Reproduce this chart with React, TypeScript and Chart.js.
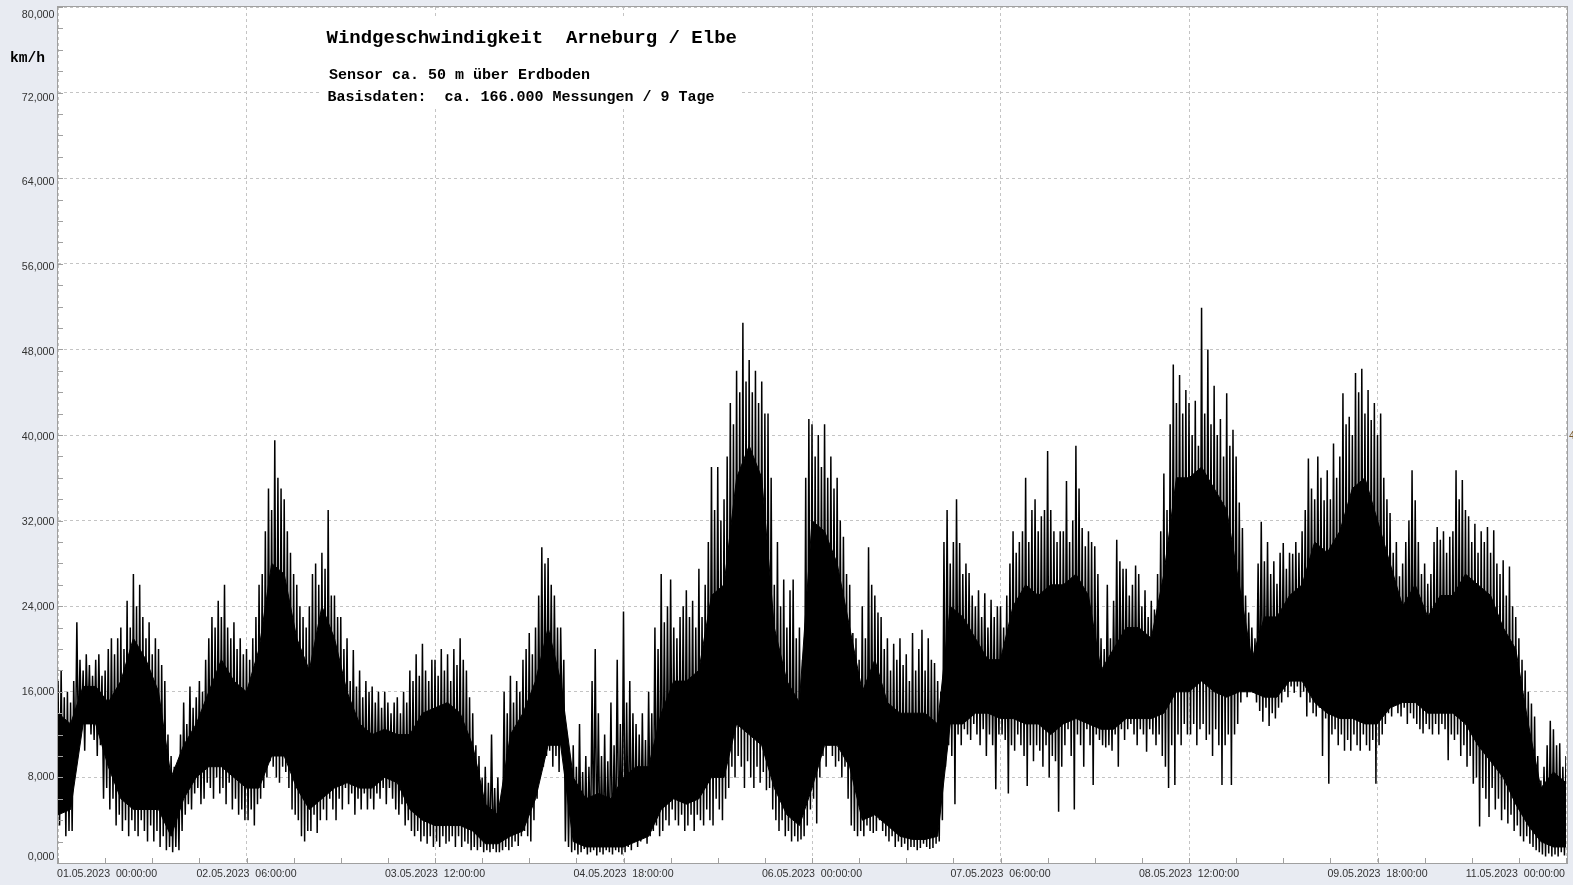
import React, { useEffect, useRef } from "react";
import { Chart, registerables } from "chart.js";

Chart.register(...registerables);

// ---- axis definitions ----
const X_TICK_HOURS = [0, 30, 60, 90, 120, 150, 180, 210, 240];
const X_TICK_LABELS = [
  "01.05.2023  00:00:00",
  "02.05.2023  06:00:00",
  "03.05.2023  12:00:00",
  "04.05.2023  18:00:00",
  "06.05.2023  00:00:00",
  "07.05.2023  06:00:00",
  "08.05.2023  12:00:00",
  "09.05.2023  18:00:00",
  "11.05.2023  00:00:00",
];
const Y_TICK_VALUES = [0, 8, 16, 24, 32, 40, 48, 56, 64, 72, 80];
const Y_TICK_LABELS = ["0,000", "8,000", "16,000", "24,000", "32,000", "40,000", "48,000", "56,000", "64,000", "72,000", "80,000"];

// ---- data (km/h), hours since 01.05.2023 00:00 ----
// solid core of the signal, one value every 2 hours (h = 0, 2, ... 240)
const BAND_STEP_HOURS = 2;
const coreHi = [
  14, 13, 16.5, 16.5, 15, 17, 21, 19, 16, 8,
  11, 13, 16, 19, 17, 16, 20, 28, 27, 21,
  18, 24, 21, 16, 13, 12, 12.5, 12, 12, 14,
  14.5, 15, 14, 11, 5.5, 4.5, 12, 14, 17, 22,
  17, 8, 6, 6.5, 6, 8, 9, 9, 14, 17,
  17, 18, 25, 26, 36, 39, 36, 22, 17, 15,
  32, 31, 28, 22, 16, 19, 15, 14, 14, 14,
  13, 24, 23, 21, 19, 19, 24, 26, 25, 26,
  26, 27, 25, 18, 20, 22, 22, 21, 27, 36,
  36, 37, 35, 33, 26, 19, 23, 23, 25, 26,
  30, 29, 31, 35, 36, 32, 28, 24, 26, 23,
  25, 25, 27, 26, 25, 22, 20, 13, 7, 8.5,
  7.5,
];
const coreLo = [
  4.5, 5, 13, 13, 9, 6, 5, 5, 5, 2.5,
  6, 8, 9, 9, 8, 7, 7, 10, 10, 7,
  5, 6, 7, 7.5, 7, 7, 8, 7.5, 5, 4,
  3.5, 3.5, 3.5, 3, 1.8, 1.8, 2.5, 3, 6, 11,
  11, 2, 1.5, 1.5, 1.5, 1.5, 2, 2.5, 5, 6,
  5.5, 6, 8, 8, 13, 12, 11, 7, 4.5, 3.5,
  7, 11, 11, 9, 4, 4.5, 3.5, 2.5, 2.2, 2.2,
  2.5, 13, 13, 14, 14, 13.5, 13.5, 13, 13, 12,
  13, 13.5, 13, 12.5, 12.5, 13.5, 13.5, 13.5, 14, 16,
  16, 17, 16, 15.5, 16, 16, 15.5, 15.5, 17, 17,
  15, 14, 13.5, 13.5, 13, 13, 14.5, 15, 15, 14,
  14, 14, 13, 11, 9.5, 8, 5.5, 3.5, 2, 1.5,
  1.5,
];
// gust tips, every half hour (h = 0, 0.5, ... 240)
const peaks = [
  17, 18, 15.5, 16, 15, 17, 22.5, 19, 18, 19.5, 18.5, 17.5, 19, 19.5, 17.5, 18, 20, 21, 19.5, 21,
  22, 20, 24.5, 22, 27, 24, 26, 23, 21, 22.5, 19.5, 21, 20, 18.5, 17, 12, 10, 9, 8.5, 12,
  15, 13, 16.5, 14.5, 15.5, 17, 16, 19, 21, 23, 22, 24.5, 23, 26, 22, 21, 22.5, 20, 21, 19.5,
  20, 19, 21, 23, 26, 27, 31, 35, 33, 39.5, 36, 35, 34, 31, 29, 27, 26, 24, 23, 22,
  24, 27, 28, 26, 29, 27.5, 33, 25, 25, 23, 23, 20, 21, 17, 19.9, 16.5, 18, 15.5, 17, 16,
  16.5, 15, 16, 14.5, 16, 15, 14, 15, 15.5, 14, 16, 15, 18, 17, 19.5, 17.5, 20.5, 18, 17, 19,
  19, 17.5, 20, 18, 19.5, 17, 20, 18.5, 21, 19, 18, 15.5, 14, 11, 10, 8, 9, 7.5, 12, 7,
  8, 6, 16, 14, 17.5, 15, 17, 16, 19, 20, 21.5, 19.5, 22, 25, 29.5, 28, 28.5, 26, 25, 22,
  22, 19, 12, 10, 11, 9, 13, 8.5, 10, 9, 17, 20, 14, 10, 12, 9.5, 15, 11, 19, 13,
  23.5, 15, 17, 14, 13, 12, 14, 11.5, 16, 14, 22, 20, 27, 22.5, 24, 26.5, 22, 21, 23, 24,
  25.5, 23, 24.5, 22, 27.5, 23, 26, 30, 37, 33, 37, 32, 34, 38, 43, 41, 46, 44, 50.5, 45,
  47, 44, 46, 43, 45, 42, 42, 36, 26, 30, 24, 26.5, 22, 25.5, 26.5, 21, 22, 19, 36, 41.5,
  41, 38, 40, 37, 41, 36, 38, 35, 36, 32, 30.5, 27, 26, 21.5, 21, 19, 24, 21, 29.5, 26,
  25, 23.4, 23, 20, 21, 18, 20.5, 19, 21, 18.5, 19.5, 17, 21.5, 18, 20, 21.8, 18, 21, 19, 18.7,
  17, 16, 30, 33, 28, 30, 34, 29.9, 27, 28, 27.1, 25, 24, 25.5, 23, 25.2, 22, 24.6, 23, 24,
  24, 22, 25, 28, 31, 29, 30, 31, 36, 30, 33, 34, 31, 32.4, 33, 38.5, 33, 31, 30, 31,
  31, 35.7, 30, 32, 39, 35, 31.3, 29.6, 31, 30, 29.6, 27, 21, 20, 26, 21, 24.5, 30.2, 28.2, 27.5,
  27.5, 25, 26, 27.8, 27, 24, 25.5, 23, 24.5, 23.7, 27, 31, 36.4, 33, 41, 46.6, 43, 45.6, 42, 44.2,
  43, 40, 43.2, 39, 51.9, 42, 48, 41, 44.6, 40, 41.5, 38, 43.9, 39, 40.5, 38, 33.7, 31.3, 25, 23.4,
  22, 21, 28, 31.9, 28.2, 30, 27, 28.2, 26.1, 29, 29.9, 27.5, 29, 28.9, 30, 29, 31, 33, 37.8, 35,
  34, 38, 36, 33.9, 36.7, 34, 39.2, 36, 38, 43.9, 41, 41.7, 40, 45.8, 44, 46.2, 42, 44.2, 41.4, 43,
  40, 42, 36, 34, 32.7, 29, 30, 26.8, 28, 30, 32, 36.7, 33.9, 30, 27, 28, 26.1, 27, 30, 31.4,
  30.2, 31, 29, 30.5, 31, 36.7, 34, 35.8, 33, 32.4, 30, 31.7, 29, 31, 30, 31.4, 29, 31.1, 28, 27,
  28.3, 25, 27.7, 24, 23, 21, 19, 18, 16, 14.9, 13.7, 10, 7.7, 9, 11, 13.3, 12.5, 11, 11.2, 9,
  10,
];
// lull tips, every half hour at quarter offsets (h = 0.25, 0.75, ... 239.75)
const troughs = [
  3.5, 5, 2.5, 3, 3, 9, 11, 12.5, 10.5, 13, 12, 11.5, 10, 11, 6, 7, 5, 6, 3.5, 4.5,
  3, 4, 2.5, 4, 3, 2.5, 4, 3, 2, 3.5, 2, 3, 1.5, 2.5, 1.2, 1.5, 1, 1.5, 1.2, 3,
  4.5, 5.5, 5, 6.5, 7, 5.5, 6, 7.5, 7, 6, 8, 6.5, 7, 5.5, 7.5, 5, 6, 4.5, 5, 4,
  4, 5, 3.5, 5.5, 6, 7, 8, 9.5, 9, 8, 7.5, 9, 8.5, 7, 5, 4.5, 4, 2.5, 2, 3,
  3, 4.5, 2.8, 4, 5, 4, 6, 5, 4, 6, 5, 7, 5.5, 6.5, 4.5, 6, 5, 6.5, 5, 6,
  5, 6.5, 6, 7, 5.5, 7, 6, 5, 4.5, 5.5, 3.5, 4, 3, 2.5, 3, 2, 2.5, 1.8, 2.5, 1.5,
  2, 1.5, 2.5, 1.8, 2, 2.5, 1.5, 2.5, 1.5, 2, 1.8, 1.2, 1.5, 1.2, 1.5, 1, 1.2, 1, 1.3, 1,
  1, 1.2, 1.5, 1.2, 1.5, 2, 1.6, 2.5, 3, 2.5, 2, 4, 6, 8, 9, 10, 10.5, 9, 10, 8.5,
  12, 2, 1.5, 1, 1.2, 0.8, 1, 1.3, 0.8, 1, 1.2, 0.7, 1, 0.8, 1.2, 1, 0.8, 1.2, 1, 0.8,
  1, 1.5, 1.2, 2, 1.5, 2, 2.5, 1.8, 2.5, 3, 3.5, 2.5, 3, 4, 3.5, 5, 4, 3.5, 4.5, 3,
  3.5, 4.5, 3, 4.5, 4, 3.5, 5, 4, 3.5, 6, 5, 4, 6, 7, 9, 8, 10, 9, 7, 9.5,
  8, 7, 9, 7.5, 8.5, 6.8, 7, 5, 4, 3, 4, 2.5, 3, 2, 2.5, 2, 2.2, 2.5, 3.5, 5,
  6, 3.7, 8, 10, 9, 11, 10, 9, 9.5, 8, 9, 6, 3.5, 3, 2.5, 3, 2.5, 3.5, 3, 2.8,
  3, 4, 3, 2.5, 2, 2.5, 1.5, 2, 1.5, 1.8, 1.2, 1.5, 1.5, 1.2, 1.4, 1.8, 1.5, 1.3, 1.4, 1.8,
  2, 4, 9, 11, 10, 5.5, 12, 11, 12.5, 12, 11.5, 13, 12, 11, 12.5, 10, 12, 11, 6.9, 12,
  12, 11.5, 6.5, 11, 10.5, 12, 11, 10, 7.2, 11, 9.5, 11, 10.5, 9, 11, 8, 10, 9.5, 4.8, 9,
  11, 12.5, 10, 5, 12, 11, 9, 12.5, 11, 7.3, 12, 11.5, 11, 10.8, 11, 10.5, 12, 9, 12.5, 11.5,
  12.5, 13, 12, 11, 12.5, 12, 10.4, 12.5, 12, 11, 12, 10, 9, 7, 11, 7.3, 12, 11, 13, 12,
  12, 13, 11, 12.5, 13, 11.5, 12, 10, 12.5, 11, 7.3, 11, 12, 7.3, 12, 13, 15, 16, 15.5, 16,
  15.9, 15, 14.2, 13.2, 14.5, 12.8, 14, 13.5, 14.5, 15, 16, 15.5, 16.5, 15.9, 16.5, 15.5, 16, 13.7, 15, 14,
  13.7, 14.5, 10, 13.5, 7.4, 12, 12.5, 11, 12, 10.5, 11.5, 10.5, 12, 11, 10.5, 12, 11, 10.5, 11.5, 7.4,
  11, 12, 13, 14, 13.7, 15, 14, 13.7, 14.5, 13, 14, 13.5, 13, 12.5, 12.1, 13, 12.5, 12, 13, 12,
  13, 12.5, 9.6, 12, 11.5, 12, 10, 11, 9, 10, 7.4, 8, 3.4, 7, 6, 4.3, 7, 5, 6, 4,
  5, 3.7, 4.5, 3, 3.5, 2.5, 2, 2.5, 1.8, 1.5, 1.2, 1, 0.8, 0.6, 0.9, 0.6, 0.8, 0.6, 1, 0.7,
];
const PEAK_STEP_HOURS = 0.5;

const TITLE = "Windgeschwindigkeit  Arneburg / Elbe";
const SUB1 = "Sensor ca. 50 m über Erdboden";
const SUB2 = "Basisdaten:  ca. 166.000 Messungen / 9 Tage";
const UNIT = "km/h";

const OUTER_BG = "#e8ebf2";
const FRAME = "#a0a0a0";
const GRID = "#c4c4c4";

const decorPlugin = {
  id: "decor",
  beforeDraw(chart: any) {
    const { ctx, chartArea: a } = chart;
    ctx.save();
    ctx.fillStyle = OUTER_BG;
    ctx.fillRect(0, 0, chart.width, chart.height);
    ctx.fillStyle = "#ffffff";
    ctx.fillRect(a.left, a.top, a.right - a.left + 2, a.bottom - a.top);
    ctx.restore();
  },
  afterDraw(chart: any) {
    const { ctx, chartArea: a, scales } = chart;
    const xs = scales.x;
    const ys = scales.y;
    ctx.save();
    ctx.strokeStyle = FRAME;
    ctx.lineWidth = 1;
    const fl = Math.round(a.left) - 0.5;
    const ft = Math.round(a.top) - 0.5;
    const fr = Math.round(a.right) + 1.5;
    const fb = Math.round(a.bottom) + 0.5;
    ctx.strokeRect(fl, ft, fr - fl, fb - ft);
    ctx.beginPath();
    for (let v = 0; v <= 80; v += 2) {
      const y = Math.round(ys.getPixelForValue(v)) + 0.5;
      ctx.moveTo(a.left, y);
      ctx.lineTo(a.left + 5, y);
    }
    for (let h = 0; h <= 240; h += 7.5) {
      const x = Math.round(xs.getPixelForValue(h)) + 0.5;
      ctx.moveTo(x, a.bottom);
      ctx.lineTo(x, a.bottom - 5);
    }
    ctx.stroke();

    ctx.fillStyle = "#333333";
    ctx.font = "10.7px 'Liberation Sans', Arial, sans-serif";
    ctx.textAlign = "right";
    ctx.textBaseline = "middle";
    Y_TICK_VALUES.forEach((v, i) => {
      let y = ys.getPixelForValue(v) + (5 * (v - 16)) / 56;
      y = Math.max(y, a.top + 8);
      y = Math.min(y, a.bottom - 6);
      ctx.fillText(Y_TICK_LABELS[i], a.left - 3.5, y);
    });
    ctx.textBaseline = "alphabetic";
    ctx.font = "10.6px 'Liberation Sans', Arial, sans-serif";
    X_TICK_HOURS.forEach((h, i) => {
      const x = xs.getPixelForValue(h);
      if (i === 0) {
        ctx.textAlign = "left";
        ctx.fillText(X_TICK_LABELS[i], a.left - 1, 876.5);
      } else if (i === X_TICK_HOURS.length - 1) {
        ctx.textAlign = "right";
        ctx.fillText(X_TICK_LABELS[i], a.right - 1, 876.5);
      } else {
        ctx.textAlign = "center";
        ctx.fillText(X_TICK_LABELS[i], x, 876.5);
      }
    });
    ctx.textAlign = "left";
    ctx.textBaseline = "middle";
    ctx.fillStyle = "#7a5a2a";
    ctx.fillText("40,000", fr + 1.5, ys.getPixelForValue(40) + 1);

    ctx.fillStyle = "#000000";
    ctx.textBaseline = "alphabetic";
    ctx.font = "bold 14.6px 'Liberation Mono', 'Courier New', monospace";
    ctx.fillText(UNIT, 10, 61.5);

    ctx.fillStyle = "#ffffff";
    ctx.fillRect(320, 18, 420, 88);
    ctx.fillStyle = "#000000";
    ctx.font = "bold 19px 'Liberation Mono', 'Courier New', monospace";
    ctx.fillText(TITLE, 326.5, 43);
    ctx.font = "bold 15px 'Liberation Mono', 'Courier New', monospace";
    ctx.fillText(SUB1, 329, 79);
    ctx.fillText(SUB2, 327.5, 101);
    ctx.restore();
  },
};

export default function App() {
  const canvasRef = useRef<HTMLCanvasElement | null>(null);

  useEffect(() => {
    if (!canvasRef.current) return;
    const hiPts = coreHi.map((v, i) => ({ x: i * BAND_STEP_HOURS, y: v }));
    const loPts = coreLo.map((v, i) => ({ x: i * BAND_STEP_HOURS, y: v }));
    const zig: { x: number; y: number }[] = [];
    peaks.forEach((v, i) => {
      zig.push({ x: i * PEAK_STEP_HOURS, y: v });
      if (i < troughs.length) zig.push({ x: i * PEAK_STEP_HOURS + PEAK_STEP_HOURS / 2, y: troughs[i] });
    });

    const chart = new Chart(canvasRef.current, {
      type: "line",
      data: {
        datasets: [
          { data: loPts, borderColor: "#000", borderWidth: 1, pointRadius: 0, fill: false, tension: 0 },
          { data: hiPts, borderColor: "#000", borderWidth: 1, pointRadius: 0, fill: "-1", backgroundColor: "#000", tension: 0 },
          { data: zig, borderColor: "#000", borderWidth: 1.5, pointRadius: 0, fill: false, tension: 0 },
        ],
      },
      options: {
        animation: false,
        responsive: false,
        maintainAspectRatio: false,
        events: [],
        layout: { padding: { left: 0, right: 7, top: 7, bottom: 0 } },
        plugins: { legend: { display: false }, tooltip: { enabled: false }, title: { display: false } },
        scales: {
          x: {
            type: "linear",
            min: 0,
            max: 240,
            ticks: { stepSize: 30, display: false },
            grid: { color: GRID, lineWidth: 1, drawTicks: false },
            border: { display: false, dash: [3, 3] },
            afterFit: (s: any) => {
              s.height = 22;
            },
          },
          y: {
            type: "linear",
            min: 0,
            max: 80,
            ticks: { stepSize: 8, display: false },
            grid: { color: GRID, lineWidth: 1, drawTicks: false },
            border: { display: false, dash: [3, 3] },
            afterFit: (s: any) => {
              s.width = 58;
            },
          },
        },
      } as any,
      plugins: [decorPlugin],
    });
    return () => chart.destroy();
  }, []);

  return (
    <div style={{ position: "absolute", left: 0, top: 0, width: 1573, height: 885, overflow: "hidden" }}>
      <canvas ref={canvasRef} width={1573} height={885} style={{ display: "block" }} />
    </div>
  );
}
